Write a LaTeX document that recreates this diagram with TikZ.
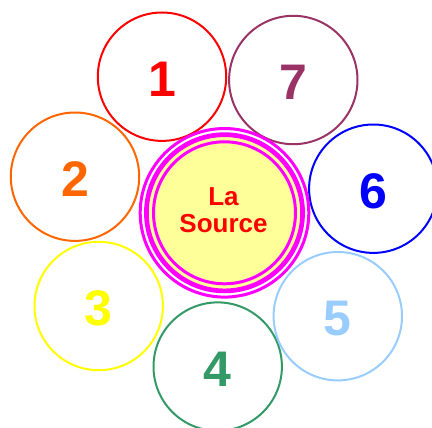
\documentclass[tikz,border=0pt]{standalone}
\usepackage{fontspec}
\setmainfont{Liberation Sans}
\definecolor{cRed}{HTML}{FF0000}
\definecolor{cPlum}{HTML}{993366}
\definecolor{cOrange}{HTML}{FF6600}
\definecolor{cBlue}{HTML}{0000FF}
\definecolor{cYellow}{HTML}{FFFF00}
\definecolor{cSky}{HTML}{99CCFF}
\definecolor{cGreen}{HTML}{339966}
\definecolor{cMag}{HTML}{FF00FF}
\definecolor{cFill}{HTML}{FFFF99}
\begin{document}
\begin{tikzpicture}[x=1pt,y=-1pt,
  petal/.style={circle, draw=#1, text=#1, line width=2pt, minimum size=128.4pt,
    inner sep=0pt, font=\fontsize{50}{50}\selectfont\bfseries,
    text height=39.5pt, text depth=0pt},
  ring/.style={draw=cMag, line width=#1},
  srctext/.style={align=center, text=cRed, inner sep=0pt,
    font=\fontsize{26}{27}\selectfont\bfseries}]
\useasboundingbox (0,0) rectangle (432,428);
\clip (0,0) rectangle (432,428);
\node[petal=cRed]    (c1) at (162,76.7)   {1};
\node[petal=cPlum]   (c7) at (293.3,80)   {7};
\node[petal=cOrange] (c2) at (75,176.7)   {2};
\node[petal=cBlue]   (c6) at (373.3,188.7) {6};
\node[petal=cYellow] (c3) at (98.7,306)   {3};
\node[petal=cGreen]  (c4) at (217.7,366.6) {4};
\node[petal=cSky]    (c5) at (337.8,316.2) {5};
\coordinate (rc) at (224.5,212.8);
\fill[cFill] (rc) circle (76.5);
\draw[ring=3pt] (rc) circle (84.3);
\draw[ring=4.7pt] (rc) circle (78.1);
\draw[ring=3pt] (rc) circle (71);
\node[srctext] (src) at (223.5,210.3) {La\\Source};
\end{tikzpicture}
\end{document}
